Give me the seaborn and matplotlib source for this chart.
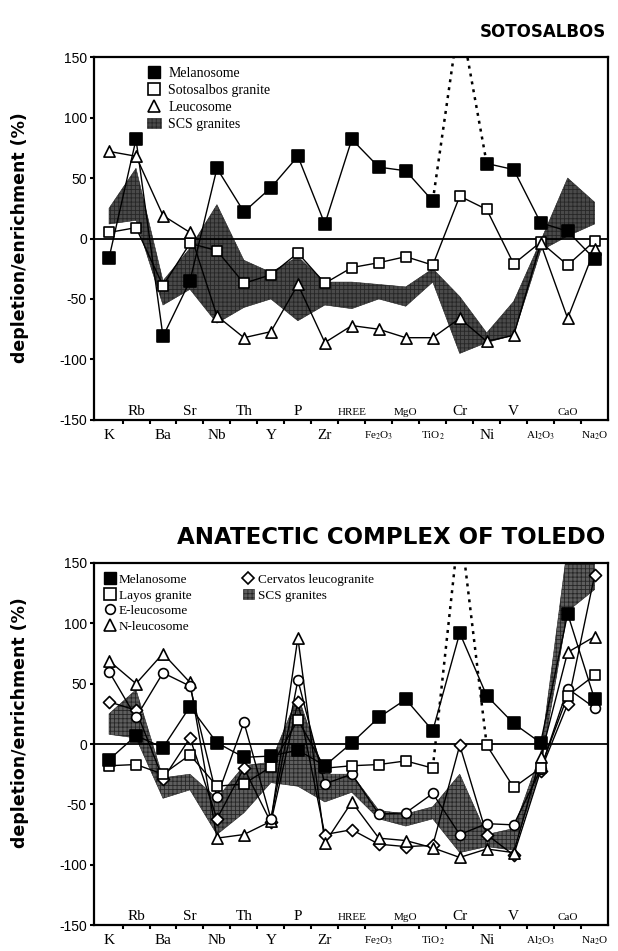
import numpy as np
import pandas as pd
import matplotlib
matplotlib.use("Agg")
import matplotlib.pyplot as plt
import seaborn as sns
from matplotlib.lines import Line2D
from matplotlib.patches import Patch

# ---------------- data ----------------
elements = ["K", "Rb", "Ba", "Sr", "Nb", "Th", "Y", "P", "Zr", "HREE",
            "Fe2O3", "MgO", "TiO2", "Cr", "Ni", "V", "Al2O3", "CaO", "Na2O"]
tick_labels = ["K", "Rb", "Ba", "Sr", "Nb", "Th", "Y", "P", "Zr", "HREE",
               r"Fe$_2$O$_3$", "MgO", r"TiO$_2$", "Cr", "Ni", "V",
               r"Al$_2$O$_3$", "CaO", r"Na$_2$O"]

# SOTOSALBOS
soto_melanosome = [-16, 82, -81, -35, 58, 22, 42, 68, 12, 82, 59, 56, 31, 185, 62, 57, 13, 6, -17]
soto_granite = [5, 9, -39, -4, -10, -37, -30, -12, -37, -24, -20, -15, -22, 35, 24, -21, -3, -22, -2]
soto_leucosome = [72, 68, 19, 5, -64, -82, -77, -38, -86, -72, -75, -82, -82, -66, -85, -80, -4, -66, -9]
soto_scs_upper = [25, 58, -35, -8, 28, -18, -28, -15, -36, -36, -38, -40, -25, -48, -78, -52, -2, 50, 30]
soto_scs_lower = [12, 15, -55, -42, -70, -57, -50, -68, -55, -58, -50, -56, -36, -95, -86, -80, -10, 2, 12]

# ANATECTIC COMPLEX OF TOLEDO
tol_melanosome = [-13, 7, -3, 31, 1, -11, -10, -5, -18, 1, 22, 37, 11, 92, 40, 17, 1, 108, 37]
tol_layos = [-18, -17, -25, -9, -35, -33, -19, 20, -20, -18, -17, -14, -20, 185, -1, -36, -20, 40, 57]
tol_eleuco = [60, 22, 59, 48, -44, 18, -62, 53, -33, -25, -58, -57, -41, -75, -66, -67, -21, 46, 30]
tol_nleuco = [69, 50, 75, 51, -78, -75, -64, 88, -82, -48, -78, -80, -86, -94, -87, -90, -11, 76, 89]
tol_cervatos = [35, 28, -29, 5, -62, -20, -65, 35, -75, -71, -83, -85, -84, -1, -75, -92, -22, 33, 140]
tol_scs_upper = [25, 45, -28, -25, -45, -18, -15, 40, -25, -25, -55, -58, -52, -25, -75, -70, -8, 165, 150]
tol_scs_lower = [8, 5, -45, -38, -75, -57, -32, -35, -48, -40, -62, -68, -62, -90, -85, -88, -20, 110, 128]

# ---------------- style ----------------
sns.set_style("ticks")
plt.rcParams.update({
    "axes.unicode_minus": False,
    "mathtext.fontset": "stix",
    "hatch.linewidth": 0.6,
    "text.color": "black",
    "axes.labelcolor": "black",
    "xtick.color": "black",
    "ytick.color": "black",
})
SERIF = ["Liberation Serif", "DejaVu Serif"]
NARROW = ["Liberation Sans Narrow", "Liberation Sans", "DejaVu Sans"]

fig = plt.figure(figsize=(6.18, 9.51), dpi=100)
ax_top = fig.add_axes([0.152, 0.5584, 0.832, 0.3816])
ax_bot = fig.add_axes([0.152, 0.0273, 0.832, 0.3807])

x = np.arange(len(elements))


def draw_band(ax, upper, lower, face):
    df = pd.DataFrame({"x": x, "up": upper, "lo": lower})
    ax.fill_between(df["x"], df["lo"], df["up"], facecolor=face,
                    edgecolor="#262626", hatch="++++", linewidth=0.4, zorder=1)


def draw_series(ax, values, marker, face, size, dotted=None):
    df = pd.DataFrame({"x": x, "y": values})
    n = len(df)
    if dotted is None:
        segs = [(0, n, "-")]
    else:
        segs = [(0, dotted, "-"), (dotted - 1, dotted + 2, ":"), (dotted + 1, n, "-")]
    for a, b, ls in segs:
        sub = df.iloc[a:b]
        if ls == ":":
            sns.lineplot(data=sub, x="x", y="y", ax=ax, color="black", lw=1.8,
                         linestyle=(0, (1.2, 2.0)), sort=False, estimator=None,
                         legend=False, zorder=3)
        else:
            sns.lineplot(data=sub, x="x", y="y", ax=ax, color="black", lw=1.0,
                         sort=False, estimator=None, legend=False, zorder=3)
    sns.scatterplot(data=df, x="x", y="y", ax=ax, marker=marker, s=size,
                    color=face, edgecolor="black", linewidth=1.2,
                    legend=False, zorder=4)


def style_axes(ax):
    ax.set_xlim(-0.56, 18.5)
    ax.set_ylim(-150, 150)
    ax.axhline(0, color="black", lw=1.3, zorder=2)
    ax.set_yticks([-150, -100, -50, 0, 50, 100, 150])
    ax.set_yticklabels(["-150", "-100", "-50", "0", "50", "100", "150"],
                       family=NARROW, fontsize=10)
    ax.tick_params(axis="y", direction="out", length=3, width=1.5, pad=2)
    ax.set_xticks(x[::2])
    ax.set_xticklabels([], minor=False)
    ax.set_xticks(x[:-1] + 0.5, minor=True)
    ax.tick_params(axis="x", which="major", length=0, pad=5)
    ax.tick_params(axis="x", which="minor", direction="out", length=3, width=1.5)
    small = {"HREE", "MgO", "CaO", "Fe2O3", "TiO2", "Al2O3", "Na2O"}
    for i in range(0, len(elements), 2):
        fs = 8 if elements[i] in small else 11
        ax.text(i, -0.025, tick_labels[i], transform=ax.get_xaxis_transform(),
                ha="center", va="top", family=SERIF, fontsize=fs)
    for i in range(1, len(elements), 2):
        fs = 8 if elements[i] in small else 11
        ax.text(i, -146, tick_labels[i], ha="center", va="baseline",
                family=SERIF, fontsize=fs)
    ax.set_xlabel("")
    ax.set_ylabel("")
    for sp in ax.spines.values():
        sp.set_visible(True)
        sp.set_linewidth(1.6)
        sp.set_color("black")


# ---------------- top panel ----------------
draw_band(ax_top, soto_scs_upper, soto_scs_lower, "#4a4a4a")
draw_series(ax_top, soto_granite, "s", "white", 55)
draw_series(ax_top, soto_leucosome, "^", "white", 65)
draw_series(ax_top, soto_melanosome, "s", "black", 65, dotted=13)
style_axes(ax_top)

h_top = [
    Line2D([], [], marker="s", ls="", color="black", mfc="black", ms=8),
    Line2D([], [], marker="s", ls="", color="black", mfc="white", ms=8, mew=1.2),
    Line2D([], [], marker="^", ls="", color="black", mfc="white", ms=8, mew=1.2),
    Patch(facecolor="#4a4a4a", edgecolor="#262626", hatch="++++", lw=0.4),
]
ax_top.legend(h_top, ["Melanosome", "Sotosalbos granite", "Leucosome", "SCS granites"],
              loc="upper left", bbox_to_anchor=(0.085, 1.0), frameon=False,
              prop={"family": SERIF, "size": 10}, handlelength=1.0,
              handleheight=0.8, handletextpad=0.5, labelspacing=0.28,
              borderaxespad=0.3)

# ---------------- bottom panel ----------------
draw_band(ax_bot, tol_scs_upper, tol_scs_lower, "#5e5e5e")
draw_series(ax_bot, tol_cervatos, "D", "white", 38)
draw_series(ax_bot, tol_nleuco, "^", "white", 65)
draw_series(ax_bot, tol_eleuco, "o", "white", 50)
draw_series(ax_bot, tol_layos, "s", "white", 55, dotted=13)
draw_series(ax_bot, tol_melanosome, "s", "black", 65)
style_axes(ax_bot)

blank = Line2D([], [], ls="", marker=None)
h_bot = [
    Line2D([], [], marker="s", ls="", color="black", mfc="black", ms=8),
    Line2D([], [], marker="s", ls="", color="black", mfc="white", ms=8, mew=1.2),
    Line2D([], [], marker="o", ls="", color="black", mfc="white", ms=7, mew=1.2),
    Line2D([], [], marker="^", ls="", color="black", mfc="white", ms=8, mew=1.2),
    Line2D([], [], marker="D", ls="", color="black", mfc="white", ms=6.5, mew=1.2),
    Patch(facecolor="#5e5e5e", edgecolor="#262626", hatch="++++", lw=0.4),
    blank, blank,
]
ax_bot.legend(h_bot, ["Melanosome", "Layos granite", "E-leucosome", "N-leucosome",
                      "Cervatos leucogranite", "SCS granites", "", ""],
              loc="upper left", bbox_to_anchor=(0.0, 1.0), ncol=2, frameon=False,
              prop={"family": SERIF, "size": 9.5}, handlelength=0.8,
              handleheight=0.8, handletextpad=0.3, labelspacing=0.22,
              columnspacing=3.9, borderaxespad=0.4)

# ---------------- titles / labels ----------------
fig.text(0.98, 1 - 32 / 951, "SOTOSALBOS", ha="right", va="center",
         fontweight="bold", fontsize=12, family="DejaVu Sans", color="black")
fig.text(0.98, 1 - 537 / 951, "ANATECTIC COMPLEX OF TOLEDO", ha="right", va="center",
         fontweight="bold", fontsize=16.5, family="DejaVu Sans", color="black")
for yc in (0.75, 0.24):
    fig.text(0.032, yc, "depletion/enrichment (%)", rotation=90, ha="center",
             va="center", fontweight="bold", fontsize=12.5, family="DejaVu Sans",
             color="black")

fig.savefig("out.png", dpi=100)
